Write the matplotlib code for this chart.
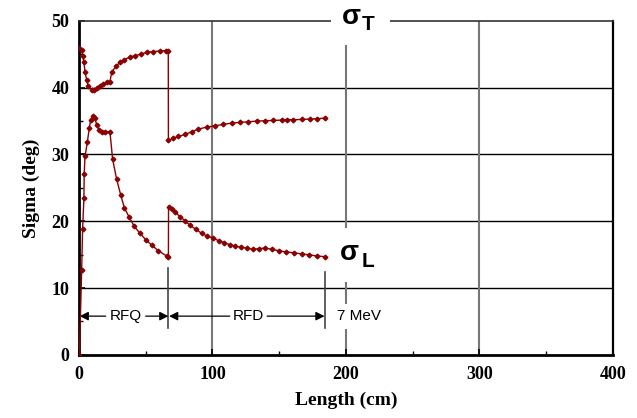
import matplotlib.pyplot as plt
from matplotlib.patches import Rectangle
from matplotlib.ticker import MultipleLocator

# sigma_T (transverse) - RFQ then RFD section
t_x = [0, 2, 2.7, 3.7, 4.5, 5.7, 7, 9.5, 11.2, 13.2, 15.7, 18.2, 20.7, 23.2,
       24.5, 27.7, 30.7, 34, 38.2, 42, 46.2, 50.7, 55.7, 60.7, 65.2, 66.9,
       67, 70.6, 74.4, 79.4, 84.4, 89.4, 95.7, 101.9, 108.1, 114.4, 120.6,
       126.8, 133.1, 139.3, 145.6, 151.8, 156, 160.6, 166.8, 173, 178.1, 184.3]
t_y = [45.9, 45.7, 44.8, 43.8, 42.4, 41.2, 40.2, 39.7, 39.6, 39.9, 40.3, 40.6,
       40.8, 40.9, 42.3, 43.2, 43.8, 44.2, 44.6, 44.8, 45.0, 45.3, 45.4, 45.5,
       45.55, 45.55, 32.1, 32.4, 32.7, 33.0, 33.4, 33.8, 34.1, 34.3, 34.5,
       34.7, 34.8, 34.9, 35.0, 35.05, 35.1, 35.15, 35.2, 35.2, 35.25, 35.3,
       35.35, 35.45]

# sigma_L (longitudinal)
l_x = [0.3, 2, 2.7, 3.7, 3.9, 4.5, 6.2, 7.7, 8.7, 10.7, 12.0, 13.2, 15.2, 17,
       19.5, 23.2, 25.2, 28.2, 31.2, 34, 37.7, 41.2, 45.7, 50.2, 54.7, 59.4,
       65.7, 67, 67.1, 69.4, 71.9, 75.7, 79.4, 83.1, 87.6, 91.9, 95.7, 100.2,
       104.6, 108.8, 112.9, 117.2, 121.4, 125.8, 130.3, 134.8, 139.6, 144.6,
       149.6, 155.3, 160.8, 167, 172, 178.3, 184.5]
l_y = [0, 12.7, 18.8, 23.5, 27.1, 29.7, 31.8, 33.9, 35.1, 35.8, 35.5, 34.4,
       33.6, 33.4, 33.4, 33.4, 29.3, 26.3, 24.0, 22.0, 20.6, 19.3, 18.2, 17.2,
       16.4, 15.6, 14.8, 14.7, 22.2, 21.8, 21.4, 20.7, 20.1, 19.4, 18.8, 18.2,
       17.8, 17.5, 17.1, 16.8, 16.5, 16.3, 16.1, 16.0, 15.8, 15.9, 16.0, 15.8,
       15.6, 15.4, 15.3, 15.1, 15.0, 14.8, 14.7]

rfq_end = 67
rfd_end = 184

red = '#8b0000'

fig = plt.figure(figsize=(6.37, 4.18), dpi=100)
ax = fig.add_axes([0.124, 0.151, 0.838, 0.799])

ax.plot(t_x, t_y, color=red, lw=1, marker='D', ms=2.4, zorder=5)
ax.plot(l_x, l_y, color=red, lw=1, marker='D', ms=2.4, zorder=5)

ax.set_xlim(0, 400)
ax.set_ylim(0, 50)
ax.xaxis.set_major_locator(MultipleLocator(100))
ax.xaxis.set_minor_locator(MultipleLocator(50))
ax.yaxis.set_major_locator(MultipleLocator(10))
ax.yaxis.set_minor_locator(MultipleLocator(5))

for v in [10, 20, 30, 40]:
    ax.axhline(v, color='black', lw=1, zorder=1)
for v in [100, 200, 300]:
    ax.axvline(v, color='#777777', lw=1.5, zorder=1)

ax.tick_params(which='both', direction='in', labelsize=13)
ax.tick_params(axis='x', pad=8)
ax.tick_params(axis='y', pad=7)
ax.tick_params(which='major', length=4, width=1.2)
ax.tick_params(which='minor', length=3, width=1)
for lab in ax.get_xticklabels() + ax.get_yticklabels():
    lab.set_fontfamily('Liberation Serif')
    lab.set_fontweight('bold')

for s in ['left', 'bottom']:
    ax.spines[s].set_linewidth(2)
ax.spines['right'].set_linewidth(1.6)
ax.spines['top'].set_linewidth(1.2)
ax.spines['top'].set_color('#333333')

ax.set_xlabel('Length (cm)', fontfamily='Liberation Serif', fontweight='bold',
              fontsize=14, labelpad=6)
ax.set_ylabel('Sigma (deg)', fontfamily='Liberation Serif', fontweight='bold',
              fontsize=14, labelpad=8)

# white gaps behind the labels (cut grid / frame like the original)
ax.add_patch(Rectangle((189, 46.4), 44, 4.6, facecolor='white',
                       edgecolor='none', zorder=4, clip_on=False))
ax.add_patch(Rectangle((190, 10.9), 28, 8.1, facecolor='white',
                       edgecolor='none', zorder=4))

sig = dict(fontfamily='Liberation Sans', fontweight='bold', zorder=6,
           clip_on=False)
ax.text(197.0, 49.55, 'σ', fontsize=20, ha='left', va='baseline', **sig)
ax.text(212.0, 48.65, 'T', fontsize=15, ha='left', va='baseline', **sig)
ax.text(195.2, 14.2, 'σ', fontsize=20, ha='left', va='baseline', **sig)
ax.text(211.5, 13.2, 'L', fontsize=15, ha='left', va='baseline', **sig)

# section markers
ay = 5.8
ax.plot([rfq_end, rfq_end], [4, 13], color='#444444', lw=1.2, zorder=3)
ax.plot([rfd_end, rfd_end], [4, 12.4], color='#444444', lw=1.2, zorder=3)

arrow = dict(arrowstyle='-|>', color='black', lw=0.9, mutation_scale=13,
             shrinkA=0, shrinkB=0)
ax.annotate('', xy=(0.5, ay), xytext=(20, ay), arrowprops=arrow, zorder=4)
ax.annotate('', xy=(rfq_end, ay), xytext=(50, ay), arrowprops=arrow, zorder=4)
ax.annotate('', xy=(rfq_end + 0.5, ay), xytext=(113, ay), arrowprops=arrow,
            zorder=4)
ax.annotate('', xy=(rfd_end, ay), xytext=(141, ay), arrowprops=arrow, zorder=4)
ax.text(35, ay, 'RFQ', fontsize=11, ha='center', va='center',
        fontfamily='Liberation Sans', zorder=4)
ax.text(127, ay, 'RFD', fontsize=11, ha='center', va='center',
        fontfamily='Liberation Sans', zorder=4)
ax.text(193, ay, '7 MeV', fontsize=11, ha='left', va='center',
        fontfamily='Liberation Sans', zorder=4,
        bbox=dict(facecolor='white', edgecolor='none', pad=4))

fig.savefig('out.png', dpi=100)
